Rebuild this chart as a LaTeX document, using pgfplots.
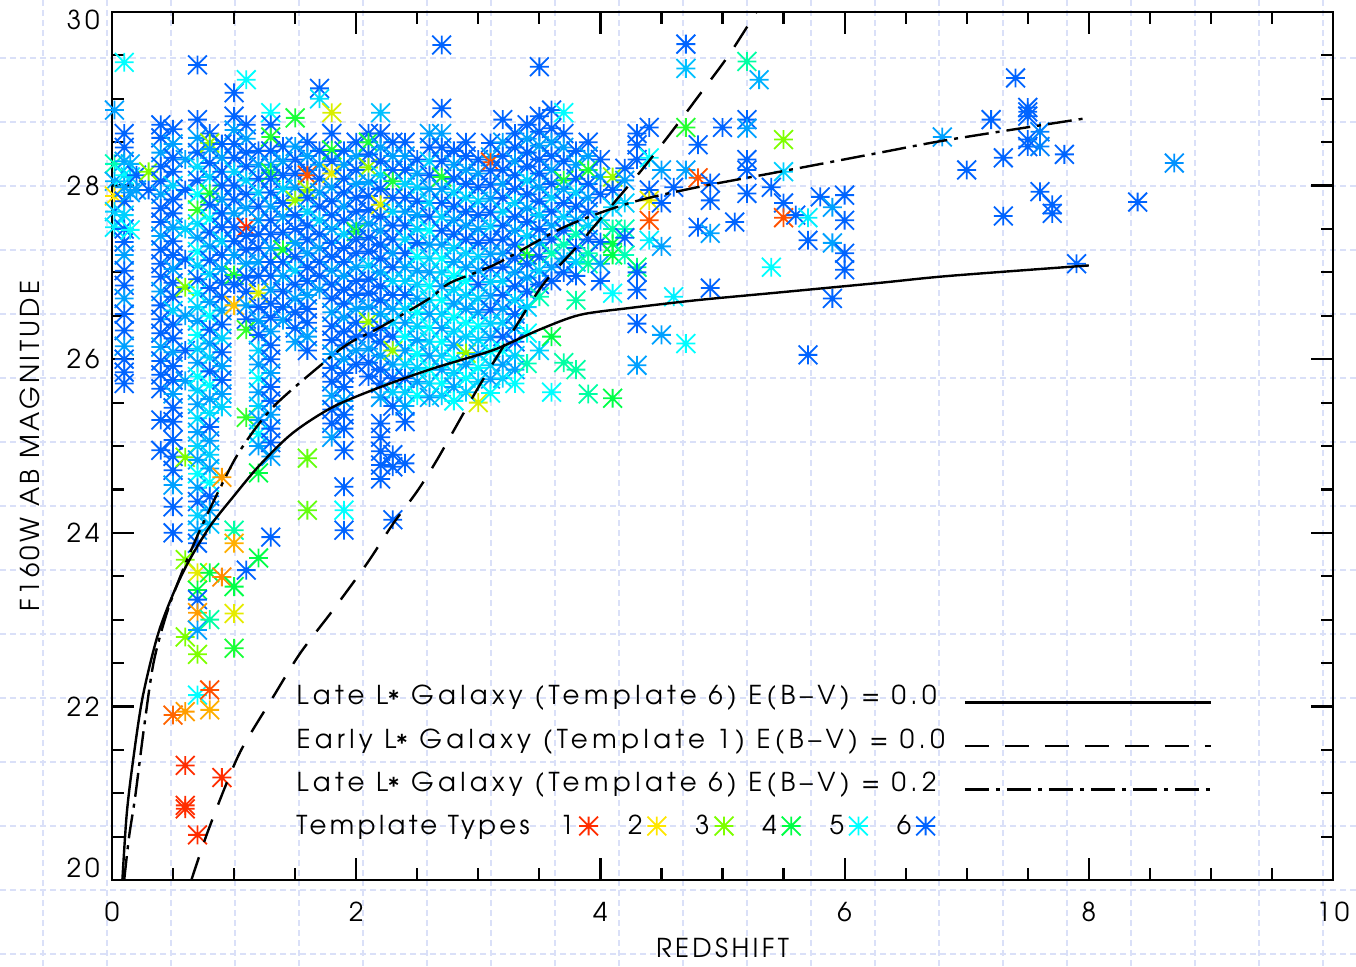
\documentclass[border=0pt]{standalone}
\usepackage{fontspec}
\setmainfont{texgyreadventor}[Extension=.otf,UprightFont=*-regular,BoldFont=*-bold,ItalicFont=*-italic,BoldItalicFont=*-bolditalic]
\newfontfamily\spfont{texgyreadventor}[Extension=.otf,UprightFont=*-regular,LetterSpace=15]
\newfontfamily\lgfont{texgyreadventor}[Extension=.otf,UprightFont=*-regular,LetterSpace=17]
\newfontfamily\lbfont{texgyreadventor}[Extension=.otf,UprightFont=*-regular,LetterSpace=13]
\usepackage{pgfplots}
\usepackage{pgfplotstable}
\pgfplotsset{compat=1.18}

\definecolor{gridlav}{RGB}{218,224,248}
\definecolor{tA}{RGB}{255,45,0}
\definecolor{tB}{RGB}{255,230,0}
\definecolor{tC}{RGB}{125,255,0}
\definecolor{tD}{RGB}{0,255,70}
\definecolor{tE}{RGB}{0,255,255}
\definecolor{tF}{RGB}{0,100,255}

\pgfplotsset{colormap={tmpl}{rgb255=(255,45,0) rgb255=(255,230,0) rgb255=(125,255,0) rgb255=(0,255,70) rgb255=(0,255,255) rgb255=(0,100,255)}}

% IDL style asterisk: plus and cross
\pgfdeclareplotmark{ast}{%
  \pgfpathmoveto{\pgfqpoint{-\pgfplotmarksize}{0pt}}\pgfpathlineto{\pgfqpoint{\pgfplotmarksize}{0pt}}%
  \pgfpathmoveto{\pgfqpoint{0pt}{-\pgfplotmarksize}}\pgfpathlineto{\pgfqpoint{0pt}{\pgfplotmarksize}}%
  \pgfpathmoveto{\pgfqpoint{-\pgfplotmarksize}{-\pgfplotmarksize}}\pgfpathlineto{\pgfqpoint{\pgfplotmarksize}{\pgfplotmarksize}}%
  \pgfpathmoveto{\pgfqpoint{-\pgfplotmarksize}{\pgfplotmarksize}}\pgfpathlineto{\pgfqpoint{\pgfplotmarksize}{-\pgfplotmarksize}}%
  \pgfusepathqstroke}

\pgfplotsset{ast legend/.style={only marks, mark=ast, mark size=4.7pt, line width=0.9pt,
  legend image code/.code={\draw[##1] plot coordinates {(4.7pt,0pt)};}}}

\newcommand{\tfont}{\spfont\fontsize{13}{15}\selectfont}
\newcommand{\lfont}{\lgfont\fontsize{13}{15}\selectfont}
\newcommand{\afont}{\lbfont\fontsize{13}{15}\selectfont}
\newcommand{\Lstar}{L\raisebox{-0.35ex}{*}}

% redshift, F160W magnitude, template type
\pgfplotstableread[row sep=\\]{
z m t\\
0.02 28.87 5.6\\0.02 28.25 4.6\\0.02 28.05 5.5\\0.02 27.88 2\\0.02 27.70 5.3\\0.02 27.52 5.1\\
0.1 29.42 5\\0.1 28.60 6\\0.1 28.44 6\\0.1 28.28 5.6\\0.1 28.12 5\\0.1 27.98 5.6\\0.1 27.82 6\\0.1 27.66 5.3\\0.1 27.50 6\\0.1 27.35 6\\0.1 27.20 5.6\\0.1 27.02 6\\0.1 26.85 6\\0.1 26.70 5.6\\0.1 26.52 6\\0.1 26.33 6\\0.1 26.15 5.6\\0.1 26.00 6\\0.1 25.85 6\\0.1 25.72 6\\
0.15 28.25 5.5\\0.15 28.10 5.2\\0.15 27.92 5.6\\0.15 27.49 5\\0.2 28.12 6\\0.2 27.95 5.6\\0.3 28.16 3\\0.3 27.95 6\\
0.4 28.70 6\\0.4 28.55 6\\0.4 28.38 5.6\\0.4 28.22 6\\0.4 28.05 6\\0.4 27.90 5.6\\0.4 27.74 6\\0.4 27.58 6\\0.4 27.42 5.6\\0.4 27.26 6\\0.4 27.10 6\\0.4 26.95 6\\0.4 26.78 5.6\\0.4 26.62 6\\0.4 26.46 6\\0.4 26.30 6\\0.4 26.14 5.6\\0.4 25.98 6\\0.4 25.82 6\\0.4 25.66 6\\0.4 25.30 6\\0.4 24.95 6\\
0.5 28.65 6\\0.5 28.48 5.6\\0.5 28.32 6\\0.5 28.16 6\\0.5 28.00 5.3\\0.5 27.84 6\\0.5 27.68 6\\0.5 27.52 5.6\\0.5 27.36 6\\0.5 27.20 6\\0.5 27.04 5.6\\0.5 26.88 6\\0.5 26.72 6\\0.5 26.56 5.3\\0.5 26.40 6\\0.5 26.24 6\\0.5 26.08 5.6\\0.5 25.92 6\\0.5 25.76 6\\0.5 25.60 5.6\\0.5 25.44 6\\0.5 25.28 6\\0.5 25.07 6\\0.5 24.88 6\\0.5 24.72 6\\0.5 24.55 5.6\\0.5 24.30 6\\0.5 24.00 6\\0.5 21.90 1.3\\
0.6 28.30 5.6\\0.6 27.95 6\\0.6 27.50 5.3\\0.6 27.15 6\\0.6 26.83 3\\0.6 26.50 5.6\\0.6 26.10 6\\0.6 25.75 5.6\\0.6 24.87 3\\0.6 23.69 3\\0.6 22.80 3\\0.6 21.94 1.6\\0.6 21.32 1\\0.6 20.86 1\\0.6 20.82 1\\
0.7 29.39 6\\0.7 28.76 6\\0.7 28.55 5.6\\0.7 28.38 6\\0.7 28.22 5.2\\0.7 28.06 6\\0.7 27.90 5\\0.7 27.72 3.6\\0.7 27.56 5.2\\0.7 27.40 5.6\\0.7 27.24 5\\0.7 27.08 5.3\\0.7 26.92 6\\0.7 26.76 5\\0.7 26.60 5.3\\0.7 26.44 5.6\\0.7 26.28 5\\0.7 26.12 5.3\\0.7 25.96 5.6\\0.7 25.80 5\\0.7 25.64 5.3\\0.7 25.48 5.6\\0.7 25.32 5.2\\0.7 25.16 5.6\\0.7 25.00 5.3\\0.7 24.84 5.6\\0.7 24.68 5\\0.7 24.52 5.6\\0.7 24.36 6\\0.7 24.20 5.3\\0.7 24.03 5.6\\0.7 23.88 6\\0.7 23.54 2.2\\0.7 23.34 4\\0.7 23.23 6\\0.7 23.08 1.6\\0.7 22.88 5.6\\0.7 22.60 3\\0.7 22.13 5\\0.7 20.52 1\\
0.8 28.60 6\\0.8 28.49 2.8\\0.8 28.42 5.6\\0.8 28.26 6\\0.8 28.10 5.3\\0.8 27.91 3.8\\0.8 27.78 6\\0.8 27.62 5\\0.8 27.46 6\\0.8 27.30 5.6\\0.8 27.14 6\\0.8 26.98 5.3\\0.8 26.82 6\\0.8 26.66 5.6\\0.8 26.50 5\\0.8 26.34 6\\0.8 26.18 5.6\\0.8 26.02 5.3\\0.8 25.86 6\\0.8 25.70 5\\0.8 25.54 5.6\\0.8 25.38 5.2\\0.8 25.22 6\\0.8 25.06 5.6\\0.8 24.90 5.3\\0.8 24.74 5.6\\0.8 24.58 5\\0.8 24.42 6\\0.8 24.26 5.6\\0.8 24.10 5.4\\0.8 23.54 4\\0.8 23.00 4.5\\0.8 22.19 1.2\\0.8 21.96 1.7\\
0.9 28.48 6\\0.9 28.32 5.6\\0.9 28.16 6\\0.9 28.00 6\\0.9 27.84 5.6\\0.9 27.68 6\\0.9 27.52 6\\0.9 27.36 5.3\\0.9 27.20 6\\0.9 27.04 5.6\\0.9 26.88 6\\0.9 26.72 6\\0.9 26.56 5.6\\0.9 26.40 6\\0.9 26.24 5.3\\0.9 26.08 6\\0.9 25.92 5.6\\0.9 25.76 6\\0.9 25.60 5.6\\0.9 25.45 5.3\\0.9 24.64 1.6\\0.9 23.49 1.5\\0.9 21.18 1\\
1.0 29.07 6\\1.0 28.80 6\\1.0 28.64 5.6\\1.0 28.48 6\\1.0 28.32 6\\1.0 28.16 5.3\\1.0 28.00 6\\1.0 27.84 6\\1.0 27.68 5.6\\1.0 27.52 6\\1.0 27.36 6\\1.0 27.20 5.6\\1.0 26.97 3.8\\1.0 26.86 6\\1.0 26.62 1.8\\1.0 24.03 4.5\\1.0 23.88 1.7\\1.0 23.38 4\\1.0 23.07 2.2\\1.0 22.67 3.8\\
1.1 29.22 5\\1.1 28.70 6\\1.1 28.54 5.6\\1.1 28.38 6\\1.1 28.22 6\\1.1 28.06 5.3\\1.1 27.90 6\\1.1 27.74 5.6\\1.1 27.52 1\\1.1 27.42 6\\1.1 27.26 6\\1.1 27.10 5.6\\1.1 26.94 6\\1.1 26.78 6\\1.1 26.62 5.6\\1.1 26.46 6\\1.1 26.34 3.6\\1.1 25.33 3.6\\1.1 23.57 6\\
1.2 28.40 6\\1.2 28.24 5.6\\1.2 28.08 6\\1.2 27.92 5.3\\1.2 27.76 6\\1.2 27.60 5.6\\1.2 27.44 6\\1.2 27.28 6\\1.2 27.12 5.6\\1.2 26.96 6\\1.2 26.76 2.3\\1.2 26.60 6\\1.2 26.44 5.6\\1.2 26.28 6\\1.2 26.10 5.3\\1.2 25.94 5.6\\1.2 25.78 5\\1.2 25.62 5.6\\1.2 25.46 5.3\\1.2 25.30 5.6\\1.2 25.14 5\\1.2 25.00 5.6\\1.2 24.69 4\\1.2 23.71 4\\
1.3 28.84 5\\1.3 28.70 6\\1.3 28.56 3.7\\1.3 28.40 6\\1.3 28.24 5.6\\1.3 28.15 3.8\\1.3 28.08 6\\1.3 27.92 6\\1.3 27.76 5.6\\1.3 27.60 6\\1.3 27.44 6\\1.3 27.28 5.6\\1.3 27.12 6\\1.3 26.96 6\\1.3 26.80 5.6\\1.3 26.64 6\\1.3 26.48 6\\1.3 26.32 5.6\\1.3 26.16 6\\1.3 26.00 6\\1.3 25.84 5.6\\1.3 25.68 6\\1.3 25.52 6\\1.3 25.36 5.6\\1.3 25.20 6\\1.3 25.04 6\\1.3 24.88 5.6\\1.3 23.95 6\\
1.4 28.45 6\\1.4 28.28 5.6\\1.4 28.12 6\\1.4 27.96 5.3\\1.4 27.80 6\\1.4 27.64 5.6\\1.4 27.46 6\\1.4 27.26 3.8\\1.4 27.12 6\\1.4 26.96 5.6\\1.4 26.78 6\\1.4 26.60 6\\1.4 26.45 5.6\\
1.5 28.78 3.8\\1.5 28.45 5.6\\1.5 28.30 6\\1.5 28.14 6\\1.5 27.98 5.6\\1.5 27.83 2.8\\1.5 27.66 6\\1.5 27.50 6\\1.5 27.34 5.6\\1.5 27.18 6\\1.5 27.02 5.3\\1.5 26.86 6\\1.5 26.70 5.6\\1.5 26.54 6\\1.5 26.36 6\\1.5 26.20 5.6\\
1.6 28.50 6\\1.6 28.34 5.6\\1.6 28.18 6\\1.6 28.12 1.2\\1.6 27.95 2.8\\1.6 27.86 6\\1.6 27.70 5.3\\1.6 27.54 6\\1.6 27.38 6\\1.6 27.22 5.6\\1.6 27.06 6\\1.6 26.90 6\\1.6 26.74 5.6\\1.6 26.58 6\\1.6 26.42 6\\1.6 26.26 5.6\\1.6 26.10 6\\1.6 24.86 3.2\\1.6 24.26 3.2\\
1.7 29.12 6\\1.7 29.00 5.2\\1.7 28.40 6\\1.7 28.24 5.6\\1.7 28.08 6\\1.7 27.92 5.6\\1.7 27.76 6\\1.7 27.60 5.3\\1.7 27.44 6\\1.7 27.28 5.6\\1.7 27.12 6\\1.7 26.96 6\\1.7 26.80 5.6\\
1.8 28.84 2.3\\1.8 28.60 6\\1.8 28.41 3.8\\1.8 28.28 6\\1.8 28.14 2.2\\1.8 27.98 5.6\\1.8 27.82 6\\1.8 27.66 6\\1.8 27.50 5.6\\1.8 27.34 6\\1.8 27.18 6\\1.8 27.02 5.6\\1.8 26.86 6\\1.8 26.70 6\\1.8 26.54 5.6\\1.8 26.38 6\\1.8 26.22 6\\1.8 26.06 5.6\\1.8 25.90 6\\1.8 25.74 6\\1.8 25.58 5.6\\1.8 25.42 6\\1.8 25.26 6\\1.8 25.10 5.6\\
1.9 28.40 6\\1.9 28.24 5.6\\1.9 28.08 6\\1.9 27.92 6\\1.9 27.76 5.6\\1.9 27.60 6\\1.9 27.44 5.3\\1.9 27.28 6\\1.9 27.12 6\\1.9 26.96 5.6\\1.9 26.80 6\\1.9 26.64 6\\1.9 26.48 5.6\\1.9 26.32 6\\1.9 26.16 6\\1.9 26.00 5.6\\1.9 25.84 6\\1.9 25.68 6\\1.9 25.52 5.6\\1.9 25.36 6\\1.9 25.20 6\\1.9 24.95 6\\1.9 24.53 6\\1.9 24.26 5\\1.9 24.03 6\\
2.0 28.50 6\\2.0 28.34 5.6\\2.0 28.18 6\\2.0 28.02 5.6\\2.0 27.86 6\\2.0 27.70 6\\2.0 27.54 5.6\\2.0 27.47 3.8\\2.0 27.38 6\\2.0 27.22 6\\2.0 27.06 5.6\\2.0 26.90 6\\2.0 26.74 6\\2.0 26.58 5.6\\2.0 26.42 6\\2.0 26.26 6\\2.0 26.10 5.6\\2.0 25.94 6\\
2.1 28.60 6\\2.1 28.50 3.8\\2.1 28.36 6\\2.1 28.21 2.8\\2.1 28.04 5.6\\2.1 27.88 6\\2.1 27.72 6\\2.1 27.56 5.6\\2.1 27.40 6\\2.1 27.24 6\\2.1 27.08 5.3\\2.1 26.92 6\\2.1 26.76 6\\2.1 26.60 5.6\\2.1 26.43 2.8\\2.1 26.28 6\\2.1 26.12 5.6\\2.1 25.96 6\\2.1 25.80 6\\
2.2 28.84 5.4\\2.2 28.60 6\\2.2 28.44 5.6\\2.2 28.28 6\\2.2 28.12 5.3\\2.2 27.96 6\\2.2 27.78 2.3\\2.2 27.64 6\\2.2 27.48 5.6\\2.2 27.32 6\\2.2 27.16 6\\2.2 27.00 5.6\\2.2 26.84 6\\2.2 26.68 6\\2.2 26.52 5.6\\2.2 26.36 6\\2.2 26.20 6\\2.2 26.04 5.6\\2.2 25.88 6\\2.2 25.72 6\\2.2 25.56 5.6\\2.2 25.26 6\\2.2 25.10 6\\2.2 24.94 6\\2.2 24.78 6\\2.2 24.62 6\\
2.3 28.50 6\\2.3 28.34 5.6\\2.3 28.18 6\\2.3 28.05 3.8\\2.3 27.86 6\\2.3 27.70 5.3\\2.3 27.54 6\\2.3 27.38 6\\2.3 27.22 5.6\\2.3 27.06 6\\2.3 26.90 5.3\\2.3 26.74 6\\2.3 26.58 5.6\\2.3 26.42 5.3\\2.3 26.26 6\\2.3 26.10 2.8\\2.3 25.94 5.6\\2.3 25.78 6\\2.3 25.62 5.3\\2.3 25.46 6\\2.3 24.90 6\\2.3 24.76 6\\2.3 24.15 6\\
2.4 28.50 6\\2.4 28.34 5.6\\2.4 28.18 6\\2.4 28.02 5.3\\2.4 27.86 6\\2.4 27.70 5.6\\2.4 27.54 6\\2.4 27.38 5.3\\2.4 27.22 6\\2.4 27.06 5.6\\2.4 26.90 5.3\\2.4 26.74 6\\2.4 26.58 5.3\\2.4 26.42 5.6\\2.4 26.26 5\\2.4 26.10 5.6\\2.4 25.94 5.3\\2.4 25.78 6\\2.4 25.62 5.3\\2.4 25.46 5.6\\2.4 25.28 6\\2.4 24.80 6\\
2.5 28.30 6\\2.5 28.14 5.6\\2.5 27.98 5.3\\2.5 27.82 6\\2.5 27.66 5.6\\2.5 27.50 5.3\\2.5 27.34 6\\2.5 27.18 5\\2.5 27.02 5.6\\2.5 26.86 5.3\\2.5 26.70 5.6\\2.5 26.54 5\\2.5 26.38 5.3\\2.5 26.22 5.6\\2.5 26.06 5\\2.5 25.90 5.3\\2.5 25.74 5.6\\2.5 25.58 5\\
2.6 28.60 5.6\\2.6 28.44 6\\2.6 28.28 5.3\\2.6 28.12 6\\2.6 27.96 5.6\\2.6 27.80 5.3\\2.6 27.64 6\\2.6 27.48 5\\2.6 27.32 5.6\\2.6 27.16 5.3\\2.6 27.00 5.6\\2.6 26.84 5\\2.6 26.68 5.3\\2.6 26.52 5.6\\2.6 26.36 5\\2.6 26.20 5.3\\2.6 26.04 5.6\\2.6 25.88 5\\2.6 25.72 5.3\\2.6 25.56 5.6\\
2.7 29.62 6\\2.7 28.89 6\\2.7 28.60 5.6\\2.7 28.44 6\\2.7 28.28 6\\2.7 28.10 3.8\\2.7 27.96 5.6\\2.7 27.80 6\\2.7 27.64 5.3\\2.7 27.48 6\\2.7 27.32 5.6\\2.7 27.16 5\\2.7 27.00 5.3\\2.7 26.84 5.6\\2.7 26.68 5\\2.7 26.52 5.3\\2.7 26.36 5.6\\2.7 26.20 5\\2.7 26.04 5.3\\2.7 25.88 5.6\\2.7 25.72 5\\2.7 25.58 5.3\\
2.8 28.40 6\\2.8 28.24 5.6\\2.8 28.08 6\\2.8 27.92 5.3\\2.8 27.76 6\\2.8 27.60 5.6\\2.8 27.44 6\\2.8 27.28 5.3\\2.8 27.12 5.6\\2.8 26.96 5\\2.8 26.80 5.3\\2.8 26.64 5.6\\2.8 26.48 5\\2.8 26.32 5.3\\2.8 26.16 5.6\\2.8 26.00 5\\2.8 25.84 5.3\\2.8 25.68 5.6\\2.8 25.52 5\\
2.9 28.50 6\\2.9 28.34 6\\2.9 28.18 5.6\\2.9 28.02 6\\2.9 27.86 5.3\\2.9 27.70 6\\2.9 27.54 5.6\\2.9 27.38 6\\2.9 27.22 5.3\\2.9 27.06 5.6\\2.9 26.90 5\\2.9 26.74 5.3\\2.9 26.58 5.6\\2.9 26.42 5\\2.9 26.26 5.3\\2.9 26.07 2.8\\2.9 25.94 5.6\\2.9 25.78 5\\2.9 25.62 5.3\\
3.0 28.30 6\\3.0 28.14 5.6\\3.0 27.98 6\\3.0 27.82 5.3\\3.0 27.66 6\\3.0 27.50 5.6\\3.0 27.34 6\\3.0 27.18 5.3\\3.0 27.02 5.6\\3.0 26.86 6\\3.0 26.70 5.3\\3.0 26.54 5.6\\3.0 26.38 5\\3.0 26.22 5.3\\3.0 26.06 5.6\\3.0 25.90 5\\3.0 25.74 5.3\\3.0 25.50 2.3\\
3.1 28.49 6\\3.1 28.33 5.6\\3.1 28.27 1.2\\3.1 28.17 6\\3.1 28.01 6\\3.1 27.85 5.6\\3.1 27.69 6\\3.1 27.53 5.3\\3.1 27.37 6\\3.1 27.21 5.6\\3.1 27.05 6\\3.1 26.89 5.3\\3.1 26.73 5.6\\3.1 26.57 6\\3.1 26.41 5.3\\3.1 26.25 5.6\\3.1 26.09 5\\3.1 25.93 5.3\\3.1 25.77 5.6\\3.1 25.61 5\\
3.2 28.76 6\\3.2 28.50 5.6\\3.2 28.34 6\\3.2 28.18 6\\3.2 28.02 5.6\\3.2 27.86 6\\3.2 27.70 5.3\\3.2 27.54 6\\3.2 27.38 6\\3.2 27.22 5.6\\3.2 27.06 6\\3.2 26.90 5.3\\3.2 26.74 6\\3.2 26.58 5.6\\3.2 26.42 5.3\\3.2 26.26 6\\3.2 26.10 5\\3.2 25.94 5.6\\3.2 25.78 5.3\\
3.3 28.60 6\\3.3 28.44 6\\3.3 28.28 5.6\\3.3 28.12 6\\3.3 27.96 6\\3.3 27.80 5.3\\3.3 27.64 6\\3.3 27.48 5.6\\3.3 27.32 6\\3.3 27.16 6\\3.3 27.00 5.6\\3.3 26.84 6\\3.3 26.68 5.3\\3.3 26.52 6\\3.3 26.36 5.6\\3.3 26.20 6\\3.3 26.04 5.3\\3.3 25.88 5.6\\3.3 25.72 5\\
3.4 28.70 6\\3.4 28.54 5.6\\3.4 28.38 6\\3.4 28.22 6\\3.4 28.06 5.3\\3.4 27.90 6\\3.4 27.74 5.6\\3.4 27.58 6\\3.4 27.42 5.3\\3.4 27.20 3.8\\3.4 27.10 6\\3.4 26.94 5.6\\3.4 26.78 6\\3.4 26.60 5.3\\3.4 26.30 5\\3.4 25.95 4.6\\
3.5 29.37 6\\3.5 28.80 6\\3.5 28.62 6\\3.5 28.46 5.6\\3.5 28.30 6\\3.5 28.14 6\\3.5 27.98 5.6\\3.5 27.82 6\\3.5 27.66 5.3\\3.5 27.50 6\\3.5 27.34 5.6\\3.5 27.18 6\\3.5 27.02 5.3\\3.5 26.86 6\\3.5 26.72 4.6\\3.5 26.10 5.3\\
3.6 28.87 6\\3.6 28.66 6\\3.6 28.50 5.6\\3.6 28.34 6\\3.6 28.18 5.6\\3.6 28.02 6\\3.6 27.86 5.3\\3.6 27.70 6\\3.6 27.54 5.6\\3.6 27.38 6\\3.6 27.22 4.6\\3.6 27.06 5.6\\3.6 26.90 6\\3.6 26.26 4\\3.6 25.62 5\\
3.7 28.84 5\\3.7 28.60 6\\3.7 28.44 5.6\\3.7 28.28 6\\3.7 28.06 3.8\\3.7 27.96 5.6\\3.7 27.80 6\\3.7 27.64 5.3\\3.7 27.48 6\\3.7 27.32 4.6\\3.7 27.16 5.6\\3.7 27.00 6\\3.7 25.96 4.5\\
3.8 28.40 6\\3.8 28.24 5.6\\3.8 28.08 6\\3.8 27.92 5.3\\3.8 27.76 6\\3.8 27.60 5.6\\3.8 27.44 4.6\\3.8 27.28 6\\3.8 27.12 5.3\\3.8 26.96 6\\3.8 26.68 4.5\\3.8 25.88 4.5\\
3.9 28.50 6\\3.9 28.34 5.6\\3.9 28.18 3.8\\3.9 28.02 6\\3.9 27.86 5.6\\3.9 27.70 6\\3.9 27.54 5.3\\3.9 27.38 6\\3.9 27.22 4.6\\3.9 27.10 4.5\\3.9 25.60 4.5\\
4.0 28.30 6\\4.0 28.10 5.6\\4.0 27.90 6\\4.0 27.60 5.3\\4.0 27.35 6\\4.0 27.10 5.6\\4.0 26.90 6\\
4.1 28.10 2.8\\4.1 27.95 6\\4.1 27.75 5.3\\4.1 27.50 4.5\\4.1 27.33 4\\4.1 27.20 4\\4.1 26.76 5\\4.1 25.55 4\\
4.2 28.20 6\\4.2 28.06 5.6\\4.2 27.80 5.3\\4.2 27.50 4.6\\4.2 27.40 6\\4.2 27.20 4.6\\
4.3 28.60 6\\4.3 28.47 6\\4.3 28.30 6\\4.3 27.06 4.3\\4.3 27.00 6\\4.3 26.80 6\\4.3 26.41 6\\4.3 25.93 5.6\\
4.4 28.67 6\\4.4 28.32 5\\4.4 27.95 6\\4.4 27.83 2.2\\4.4 27.60 1.2\\4.4 27.37 5.1\\
4.5 28.18 5.6\\4.5 27.80 6\\4.5 27.30 5.6\\4.5 26.28 5.6\\4.6 27.98 6\\4.6 26.72 5.1\\
4.7 29.63 6\\4.7 29.35 5.4\\4.7 28.67 3.7\\4.7 28.18 5.6\\4.7 26.18 5\\
4.8 28.47 6\\4.8 28.09 1.2\\4.8 27.52 6\\4.9 28.03 6\\4.9 27.83 6\\4.9 27.45 5.6\\4.9 26.82 6\\
5.0 28.67 6\\5.1 27.58 6\\5.2 29.43 4.5\\5.2 28.76 6\\5.2 28.66 5.6\\5.2 28.30 6\\5.2 28.18 6\\5.2 27.91 6\\5.3 29.22 5.5\\
5.4 27.98 6\\5.4 27.06 5\\5.5 28.53 3\\5.5 28.16 5.3\\5.5 27.80 6\\5.5 27.63 1.2\\
5.6 27.66 6\\5.7 27.63 5.1\\5.7 27.37 6\\5.7 26.05 6\\5.8 27.87 6\\5.9 27.75 5.6\\5.9 27.34 5.6\\5.9 26.70 6\\6.0 27.89 6\\6.0 27.60 6\\6.0 27.22 6\\6.0 27.03 6\\
6.8 28.56 5.6\\7.0 28.18 6\\7.2 28.76 6\\7.3 28.32 6\\7.3 27.65 6\\7.4 29.24 6\\7.5 28.90 6\\7.5 28.85 6\\7.5 28.80 6\\7.5 28.53 6\\7.5 28.45 6\\
7.6 28.62 5.8\\7.6 28.45 5.8\\7.6 27.93 6\\7.7 27.78 6\\7.7 27.68 6\\7.8 28.36 6\\7.9 27.10 6\\8.4 27.81 6\\8.7 28.26 5.7\\
}\gal

\begin{document}
\begin{tikzpicture}
% graph paper background, in pixel units of the page
\begin{axis}[at={(0pt,0pt)}, anchor=south west, scale only axis,
  width=678pt, height=483pt,
  xmin=0, xmax=1356, ymin=0, ymax=966, y dir=reverse,
  xtick={43,107,...,1323}, ytick={58,122,...,954},
  xticklabels={}, yticklabels={}, major tick length=0pt,
  tick label style={overlay},
  grid=major, major grid style={gridlav, line width=0.8pt, dash pattern=on 3pt off 2pt},
  axis line style={draw=none},
  legend columns=7, legend plot pos=right,
  legend style={at={(axis cs:292,826)}, anchor=west, draw=none, fill=none,
    inner sep=0pt, column sep=0.5pt, font=\lfont},
]
\addlegendimage{empty legend}\addlegendentry{\afont Template Types}
\addlegendimage{ast legend, tA}\addlegendentry{\hspace{10pt}1}
\addlegendimage{ast legend, tB}\addlegendentry{\hspace{12.5pt}2}
\addlegendimage{ast legend, tC}\addlegendentry{\hspace{12pt}3}
\addlegendimage{ast legend, tD}\addlegendentry{\hspace{12pt}4}
\addlegendimage{ast legend, tE}\addlegendentry{\hspace{12pt}5}
\addlegendimage{ast legend, tF}\addlegendentry{\hspace{12pt}6}
\end{axis}

\begin{axis}[at={(56pt,43pt)}, anchor=south west, scale only axis,
  width=610.5pt, height=434pt,
  clip mode=individual,
  xmin=0, xmax=10, ymin=20, ymax=30,
  xtick={0,2,...,10}, ytick={20,22,...,30},
  yticklabels={{},22,24,26,28,{}},
  minor x tick num=3, minor y tick num=3,
  major tick length=11pt, minor tick length=6pt,
  tick style={black, line width=1.1pt},
  axis line style={line width=1.4pt},
  /pgf/number format/assume math mode=true,
  tick label style={font=\tfont},
  xticklabel style={inner sep=0pt, yshift=-11pt},
  yticklabel style={inner sep=0pt, xshift=-6pt},
  xlabel={REDSHIFT}, ylabel={F160W AB MAGNITUDE},
  xlabel style={at={(axis description cs:0.5,-0.078)}, anchor=center, font=\afont},
  ylabel style={at={(axis description cs:-0.067,0.5)}, anchor=center, font=\afont},
  colormap name=tmpl, point meta min=1, point meta max=6,
  legend plot pos=right, legend cell align=left,
  legend style={at={(axis cs:1.475,21.613)}, anchor=west, draw=none, fill=none,
    inner sep=0pt, row sep=6.5pt, column sep=7.5pt, font=\lfont},
  legend image code/.code={\draw[#1] (0pt,-3pt) -- (123pt,-3pt);},
]
\addplot[scatter, only marks, mark=ast, mark size=4.7pt, line width=0.9pt,
  point meta=explicit, scatter/use mapped color={draw=mapped color}, forget plot]
  table[x=z, y=m, meta=t] {\gal};

\addplot[black, line width=1.2pt, smooth] coordinates {
  (0.085,20.0) (0.12,20.75) (0.17,21.35) (0.25,22.1) (0.37,22.8) (0.49,23.26)
  (0.62,23.65) (0.8,24.07) (0.99,24.41) (1.21,24.78) (1.48,25.15) (1.81,25.45)
  (2.2,25.68) (2.6,25.88) (2.88,26.0) (3.15,26.12) (3.5,26.34) (3.83,26.51)
  (4.24,26.59) (4.79,26.68) (5.47,26.77) (6.29,26.88) (6.86,26.96) (8.0,27.08)};
\addlegendentry{Late \Lstar\ Galaxy (Template 6) E(B\textendash V) = 0.0}

\addplot[black, line width=1.2pt, smooth, dash pattern=on 12pt off 8pt] coordinates {
  (0.65,20.0) (0.78,20.54) (0.94,21.12) (1.07,21.53) (1.32,22.11) (1.54,22.61)
  (1.81,23.11) (2.09,23.65) (2.3,24.1) (2.5,24.48) (2.67,24.86) (2.99,25.65)
  (3.26,26.27) (3.53,26.86) (3.81,27.3) (4.08,27.75) (4.35,28.2) (4.6,28.65)
  (4.84,29.1) (5.06,29.52) (5.3,30.05)};
\addlegendentry{Early \Lstar\ Galaxy (Template 1) E(B\textendash V) = 0.0}

\addplot[black, line width=1.2pt, smooth, dash pattern=on 12pt off 3.5pt on 2pt off 3.5pt] coordinates {
  (0.1,20.0) (0.14,20.5) (0.19,20.96) (0.26,21.73) (0.34,22.5) (0.45,23.08)
  (0.58,23.57) (0.72,24.03) (0.88,24.5) (1.05,24.95) (1.32,25.45) (1.76,25.99)
  (1.95,26.19) (2.2,26.37) (2.6,26.7) (2.77,26.88) (3.15,27.1) (3.7,27.52)
  (4.24,27.8) (4.79,27.98) (5.47,28.16) (6.29,28.38) (6.86,28.53) (7.95,28.77)};
\addlegendentry{Late \Lstar\ Galaxy (Template 6) E(B\textendash V) = 0.2}

% end labels of the magnitude axis sit inside the axis range, as in the original
\node[anchor=east, inner sep=0pt, font=\tfont] at ([xshift=-6pt]axis description cs:0,0.0138) {20};
\node[anchor=east, inner sep=0pt, font=\tfont] at ([xshift=-6pt]axis description cs:0,0.9908) {30};
\end{axis}
\pgfresetboundingbox
\path[use as bounding box] (0pt,0pt) rectangle (678pt,483pt);
\end{tikzpicture}
\end{document}
